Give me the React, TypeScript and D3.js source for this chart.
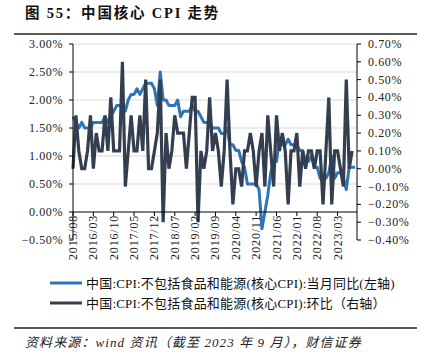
import React from "react";
import * as d3 from "d3";

// ---- data ----
const startYear = 2015;
const startMonth = 8;
const yoy = [
  1.7, 1.6, 1.5, 1.6, 1.5,
  1.5, 1.5, 1.6, 1.6, 1.6, 1.6, 1.7, 1.6, 1.7, 1.8, 1.9, 1.9,
  1.9, 1.8, 2.0, 2.1, 2.1, 2.2, 2.1, 2.2, 2.3, 2.3, 2.3, 2.2,
  1.9, 2.5, 2.0, 2.0, 1.9, 1.9, 1.9, 2.0, 1.7, 1.8, 1.8, 1.8,
  1.9, 1.8, 1.8, 1.7, 1.6, 1.6, 1.6, 1.5, 1.5, 1.5, 1.4, 1.4,
  1.5, 1.2, 1.2, 1.1, 1.1, 0.9, 0.8, 0.5, 0.5, 0.5, 0.5, 0.4,
  -0.3, 0.0, 0.3, 0.7, 0.9, 0.9, 1.3, 1.2, 1.2, 1.3, 1.2, 1.2,
  1.2, 1.1, 1.1, 0.9, 0.9, 1.0, 0.8, 0.8, 0.6, 0.6, 0.6, 0.7,
  1.0, 0.6, 0.7, 0.7, 0.6, 0.4, 0.8, 0.8, 0.8,
];
const mom = [
  0.0, 0.3, 0.1, 0.0, 0.0,
  0.1, 0.3, 0.0, 0.2, 0.1, 0.1, 0.3, 0.1, 0.4, 0.1, 0.1, 0.1,
  0.6, -0.1, 0.1, 0.3, 0.1, 0.1, 0.3, 0.1, 0.5, 0.0, 0.0, 0.1,
  0.2, 0.5, -0.3, 0.2, 0.0, 0.1, 0.3, 0.2, 0.2, 0.2, 0.0, 0.2,
  0.4, 0.4, -0.3, 0.1, 0.0, 0.1, 0.4, 0.1, 0.2, 0.1, -0.1, 0.1,
  0.5, 0.1, -0.2, 0.0, 0.0, -0.1, 0.1, 0.1, 0.2, 0.1, -0.1, 0.1,
  0.2, -0.1, 0.3, 0.1, -0.1, 0.3, 0.1, 0.2, 0.1, -0.2, 0.1, 0.1,
  0.2, -0.1, 0.1, 0.0, 0.1, 0.1, 0.0, 0.1, 0.1, -0.2, 0.1, 0.4,
  -0.2, 0.1, 0.1, 0.0, -0.1, 0.5, 0.0, 0.1,
];
const xTickLabels = [
  "2015/08", "2016/03", "2016/10", "2017/05", "2017/12", "2018/07", "2019/02",
  "2019/09", "2020/04", "2020/11", "2021/06", "2022/01", "2022/08", "2023/03",
];
const leftTicks = [-0.5, 0, 0.5, 1.0, 1.5, 2.0, 2.5, 3.0];
const rightTicks = [-0.4, -0.3, -0.2, -0.1, 0, 0.1, 0.2, 0.3, 0.4, 0.5, 0.6, 0.7];
const title = "图 55：中国核心 CPI 走势";
const legendLabels = [
  "中国:CPI:不包括食品和能源(核心CPI):当月同比(左轴)",
  "中国:CPI:不包括食品和能源(核心CPI):环比（右轴）",
];
const source = "资料来源：wind 资讯（截至 2023 年 9 月），财信证券";

const months = yoy.map((_, i) => {
  const m0 = startMonth - 1 + i;
  const y = startYear + Math.floor(m0 / 12);
  const m = (m0 % 12) + 1;
  return `${y}/${String(m).padStart(2, "0")}`;
});

const BLUE = "#2E75B6";
const DARK = "#333F50";
const SERIF = "'Liberation Serif', 'Times New Roman', 'Noto Sans CJK SC', serif";
const MIX = "'Liberation Serif', 'Noto Sans CJK SC', serif";

export default function App() {
  const W = 430, H = 359;
  const x0 = 73, x1 = 355, xr = 357;
  const yTop = 44, yBot = 240;
  const x = d3.scaleLinear().domain([0, months.length - 1]).range([x0, x1]);
  const yL = d3.scaleLinear().domain([-0.5, 3.0]).range([yBot, yTop]);
  const yR = d3.scaleLinear().domain([-0.4, 0.7]).range([yBot, yTop]);
  const lineL = d3.line<number>().x((_, i) => x(i)).y((d) => yL(d));
  const lineR = d3.line<number>().x((_, i) => x(i)).y((d) => yR(d));
  const axisY = yL(0);

  return (
    <svg
      width={W}
      height={H}
      style={{ position: "absolute", left: 0, top: 0, background: "#fff" }}
    >
      {/* title */}
      <text x={25} y={18} fontFamily={MIX} fontWeight={700} fontSize={14.5} fill="#111" letterSpacing={1.8}>
        {title}
      </text>
      <line x1={14} x2={417} y1={34} y2={34} stroke="#222" strokeWidth={1.3} />

      {/* gridlines */}
      {leftTicks.filter((t) => t > 0).map((t) => (
        <line key={"g" + t} x1={x0} x2={xr} y1={yL(t)} y2={yL(t)} stroke="#D9D9D9" strokeWidth={1} />
      ))}

      {/* lines */}
      <path d={lineL(yoy) || ""} fill="none" stroke={BLUE} strokeWidth={3} strokeLinejoin="round" />
      <path d={lineR(mom) || ""} fill="none" stroke={DARK} strokeWidth={3.2} strokeLinejoin="miter" strokeMiterlimit={3} />

      {/* left axis */}
      <line x1={x0} x2={x0} y1={yTop} y2={yBot} stroke="#000" strokeWidth={1} />
      {leftTicks.map((t) => (
        <g key={"l" + t}>
          <line x1={x0 - 4} x2={x0} y1={yL(t)} y2={yL(t)} stroke="#000" />
          <text
            x={63}
            y={yL(t)}
            textAnchor="end"
            dominantBaseline="central"
            fontFamily={SERIF}
            fontSize={12}
            letterSpacing={0.6}
            fill="#222"
          >
            {d3.format(".2f")(t) + "%"}
          </text>
        </g>
      ))}

      {/* right axis */}
      <line x1={xr} x2={xr} y1={yTop} y2={yBot} stroke="#000" strokeWidth={1} />
      {rightTicks.map((t) => (
        <g key={"r" + t}>
          <line x1={xr} x2={xr + 4} y1={yR(t)} y2={yR(t)} stroke="#000" />
          <text
            x={368}
            y={yR(t)}
            dominantBaseline="central"
            fontFamily={SERIF}
            fontSize={12}
            letterSpacing={0.6}
            fill="#222"
          >
            {d3.format(".2f")(Math.abs(t) < 1e-9 ? 0 : t) + "%"}
          </text>
        </g>
      ))}

      {/* x axis */}
      <line x1={x0} x2={xr} y1={axisY} y2={axisY} stroke="#000" strokeWidth={1} />
      {xTickLabels.map((lab) => {
        const i = months.indexOf(lab);
        const xp = x(i);
        return (
          <g key={lab}>
            <line x1={xp} x2={xp} y1={axisY} y2={axisY + 4} stroke="#000" />
            <text
              transform={`translate(${xp},${axisY + 3}) rotate(-90)`}
              textAnchor="end"
              dominantBaseline="central"
              fontFamily={SERIF}
              fontSize={12}
              letterSpacing={0.8}
              fill="#222"
            >
              {lab}
            </text>
          </g>
        );
      })}

      {/* legend */}
      {legendLabels.map((lab, k) => {
        const ly = 283 + k * 20;
        return (
          <g key={lab}>
            <line x1={50} x2={82} y1={ly} y2={ly} stroke={k === 0 ? BLUE : DARK} strokeWidth={3} />
            <text x={86} y={ly} dominantBaseline="central" fontFamily={MIX} fontSize={13} letterSpacing={0.2} fill="#111">
              {lab}
            </text>
          </g>
        );
      })}

      {/* source */}
      <line x1={14} x2={417} y1={328} y2={328} stroke="#222" strokeWidth={1.3} />
      <text x={25} y={347} fontFamily={MIX} fontStyle="italic" fontSize={13} letterSpacing={1.1} fill="#222">
        {source}
      </text>
    </svg>
  );
}
